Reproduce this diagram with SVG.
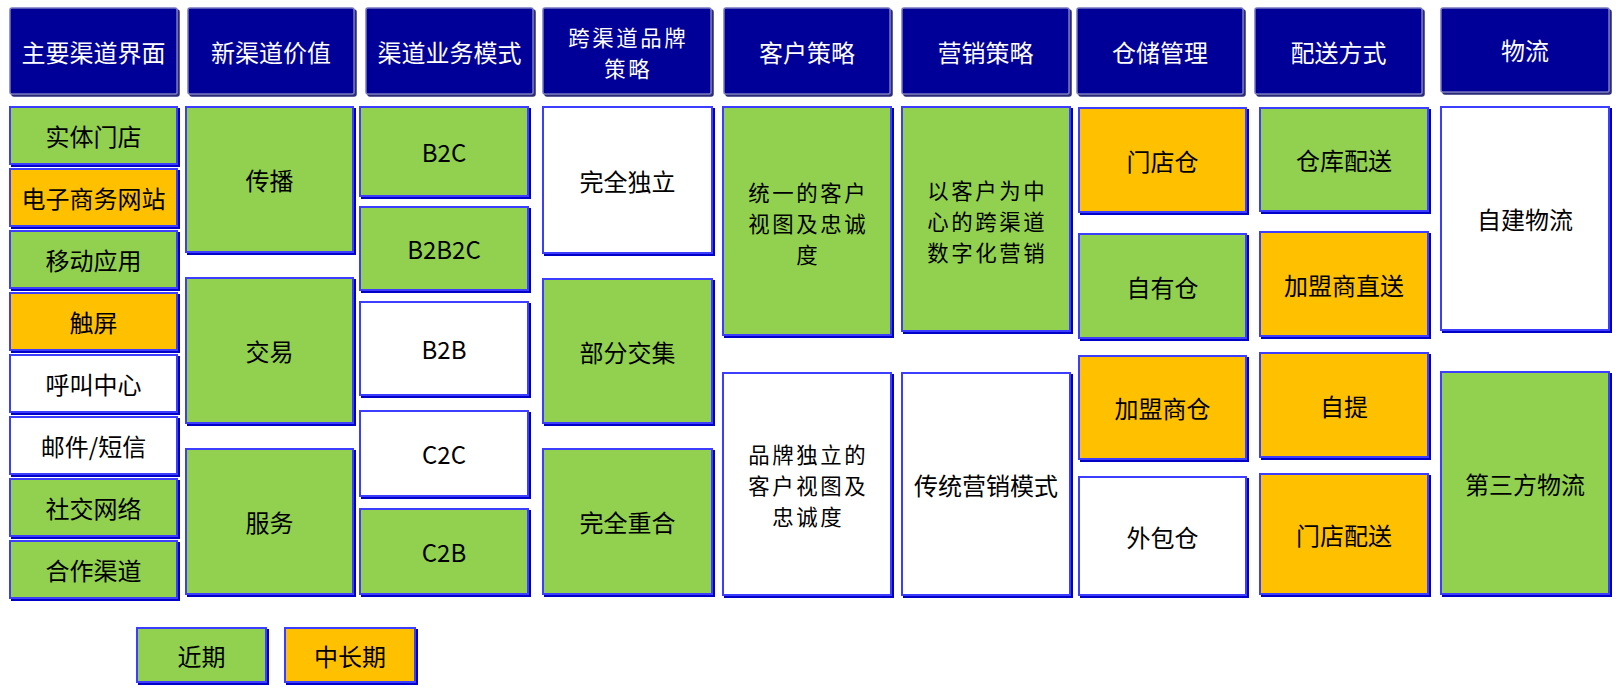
<svg xmlns="http://www.w3.org/2000/svg" width="1619" height="692" viewBox="0 0 1619 692">
<defs>
<filter id="sb" x="-5%" y="-5%" width="110%" height="110%">
<feFlood flood-color="#0000C8" result="c"/>
<feComposite in="c" in2="SourceAlpha" operator="in" result="s"/>
<feOffset in="s" dx="2" dy="2" result="o"/>
<feMerge><feMergeNode in="o"/><feMergeNode in="SourceGraphic"/></feMerge>
</filter>
<filter id="sh" x="-5%" y="-5%" width="110%" height="110%">
<feFlood flood-color="#2A2A78" result="c"/>
<feComposite in="c" in2="SourceAlpha" operator="in" result="s"/>
<feOffset in="s" dx="2" dy="2" result="o"/>
<feMerge><feMergeNode in="o"/><feMergeNode in="SourceGraphic"/></feMerge>
</filter>
</defs>
<style>
rect.h{fill:#000099;stroke:#7878C0;stroke-width:1.5;filter:url(#sh)}
rect.g{fill:#92D050;stroke:#3C3CFF;stroke-width:2;filter:url(#sb)}
rect.o{fill:#FFC000;stroke:#3C3CFF;stroke-width:2;filter:url(#sb)}
rect.w{fill:#FFFFFF;stroke:#3C3CFF;stroke-width:2;filter:url(#sb)}
text{font-family:"Noto Sans CJK SC","Noto Sans",sans-serif;font-size:24px;text-anchor:middle;dominant-baseline:central}
text.ht{fill:#FFFFFF}
text.bt{fill:#000000}
text.ml{font-size:21.4px;letter-spacing:2.6px}
</style>
<g id="headers">
<g id="h1"><rect class="h" x="10" y="8" width="167" height="86" rx="2"/><text class="ht" x="93.5" y="51">主要渠道界面</text></g>
<g id="h2"><rect class="h" x="188" y="8" width="166" height="86" rx="2"/><text class="ht" x="271" y="51">新渠道价值</text></g>
<g id="h3"><rect class="h" x="366" y="8" width="167" height="86" rx="2"/><text class="ht" x="449.5" y="51">渠道业务模式</text></g>
<g id="h4"><rect class="h" x="543" y="8" width="168" height="86" rx="2"/><text class="ht ml" x="628.3" y="36">跨渠道品牌<tspan x="628.3" dy="31">策略</tspan></text></g>
<g id="h5"><rect class="h" x="724" y="8" width="166" height="86" rx="2"/><text class="ht" x="807" y="51">客户策略</text></g>
<g id="h6"><rect class="h" x="902" y="8" width="167" height="86" rx="2"/><text class="ht" x="985.5" y="51">营销策略</text></g>
<g id="h7"><rect class="h" x="1077" y="8" width="166" height="86" rx="2"/><text class="ht" x="1160" y="51">仓储管理</text></g>
<g id="h8"><rect class="h" x="1255" y="8" width="167" height="86" rx="2"/><text class="ht" x="1338.5" y="51">配送方式</text></g>
<g id="h9"><rect class="h" x="1441" y="8" width="168" height="84" rx="2"/><text class="ht" x="1525" y="49">物流</text></g>
</g>
<g id="col1">
<g id="n1-1"><rect class="g" x="10" y="107" width="167" height="57"/><text class="bt" x="93.5" y="135.5">实体门店</text></g>
<g id="n1-2"><rect class="o" x="10" y="169" width="167" height="57"/><text class="bt" x="93.5" y="197.5">电子商务网站</text></g>
<g id="n1-3"><rect class="g" x="10" y="231" width="167" height="57"/><text class="bt" x="93.5" y="259.5">移动应用</text></g>
<g id="n1-4"><rect class="o" x="10" y="293" width="167" height="57"/><text class="bt" x="93.5" y="321.5">触屏</text></g>
<g id="n1-5"><rect class="w" x="10" y="355" width="167" height="57"/><text class="bt" x="93.5" y="383.5">呼叫中心</text></g>
<g id="n1-6"><rect class="w" x="10" y="417" width="167" height="57"/><text class="bt" x="93.5" y="445.5">邮件/短信</text></g>
<g id="n1-7"><rect class="g" x="10" y="479" width="167" height="57"/><text class="bt" x="93.5" y="507.5">社交网络</text></g>
<g id="n1-8"><rect class="g" x="10" y="541" width="167" height="57"/><text class="bt" x="93.5" y="569.5">合作渠道</text></g>
</g>
<g id="col2">
<g id="n2-1"><rect class="g" x="186" y="107" width="167" height="145"/><text class="bt" x="269.5" y="179.5">传播</text></g>
<g id="n2-2"><rect class="g" x="186" y="278" width="167" height="145"/><text class="bt" x="269.5" y="350.5">交易</text></g>
<g id="n2-3"><rect class="g" x="186" y="449" width="167" height="145"/><text class="bt" x="269.5" y="521.5">服务</text></g>
</g>
<g id="col3">
<g id="n3-1"><rect class="g" x="360" y="107" width="168" height="89"/><text class="bt" x="444" y="151.5">B2C</text></g>
<g id="n3-2"><rect class="g" x="360" y="207" width="168" height="83"/><text class="bt" x="444" y="248.5">B2B2C</text></g>
<g id="n3-3"><rect class="w" x="360" y="302" width="168" height="93"/><text class="bt" x="444" y="348.5">B2B</text></g>
<g id="n3-4"><rect class="w" x="360" y="411" width="168" height="85"/><text class="bt" x="444" y="453.5">C2C</text></g>
<g id="n3-5"><rect class="g" x="360" y="509" width="168" height="85"/><text class="bt" x="444" y="551.5">C2B</text></g>
</g>
<g id="col4">
<g id="n4-1"><rect class="w" x="543" y="107" width="169" height="146"/><text class="bt" x="627.5" y="180">完全独立</text></g>
<g id="n4-2"><rect class="g" x="543" y="279" width="169" height="144"/><text class="bt" x="627.5" y="351">部分交集</text></g>
<g id="n4-3"><rect class="g" x="543" y="449" width="169" height="145"/><text class="bt" x="627.5" y="521.5">完全重合</text></g>
</g>
<g id="col5">
<g id="n5-1"><rect class="g" x="723" y="107" width="168" height="228"/><text class="bt ml" x="808.3" y="191">统一的客户<tspan x="808.3" dy="31">视图及忠诚</tspan><tspan x="808.3" dy="31">度</tspan></text></g>
<g id="n5-2"><rect class="w" x="723" y="373" width="168" height="222"/><text class="bt ml" x="808.3" y="453">品牌独立的<tspan x="808.3" dy="31">客户视图及</tspan><tspan x="808.3" dy="31">忠诚度</tspan></text></g>
</g>
<g id="col6">
<g id="n6-1"><rect class="g" x="902" y="107" width="168" height="224"/><text class="bt ml" x="987.3" y="189">以客户为中<tspan x="987.3" dy="31">心的跨渠道</tspan><tspan x="987.3" dy="31">数字化营销</tspan></text></g>
<g id="n6-2"><rect class="w" x="902" y="373" width="168" height="222"/><text class="bt" x="986" y="484">传统营销模式</text></g>
</g>
<g id="col7">
<g id="n7-1"><rect class="o" x="1079" y="108" width="167" height="104"/><text class="bt" x="1162.5" y="160">门店仓</text></g>
<g id="n7-2"><rect class="g" x="1079" y="234" width="167" height="104"/><text class="bt" x="1162.5" y="286">自有仓</text></g>
<g id="n7-3"><rect class="o" x="1079" y="356" width="167" height="103"/><text class="bt" x="1162.5" y="407.5">加盟商仓</text></g>
<g id="n7-4"><rect class="w" x="1079" y="477" width="167" height="118"/><text class="bt" x="1162.5" y="536">外包仓</text></g>
</g>
<g id="col8">
<g id="n8-1"><rect class="g" x="1260" y="108" width="168" height="103"/><text class="bt" x="1344" y="159.5">仓库配送</text></g>
<g id="n8-2"><rect class="o" x="1260" y="232" width="168" height="104"/><text class="bt" x="1344" y="284">加盟商直送</text></g>
<g id="n8-3"><rect class="o" x="1260" y="353" width="168" height="104"/><text class="bt" x="1344" y="405">自提</text></g>
<g id="n8-4"><rect class="o" x="1260" y="474" width="168" height="120"/><text class="bt" x="1344" y="534">门店配送</text></g>
</g>
<g id="col9">
<g id="n9-1"><rect class="w" x="1441" y="107" width="168" height="223"/><text class="bt" x="1525" y="218.5">自建物流</text></g>
<g id="n9-2"><rect class="g" x="1441" y="372" width="168" height="222"/><text class="bt" x="1525" y="483">第三方物流</text></g>
</g>
<g id="legend">
<g id="l1"><rect class="g" x="137" y="628" width="129" height="54"/><text class="bt" x="201.5" y="655">近期</text></g>
<g id="l2"><rect class="o" x="285" y="628" width="130" height="54"/><text class="bt" x="350" y="655">中长期</text></g>
</g>
<g id="connectors"></g>
</svg>
